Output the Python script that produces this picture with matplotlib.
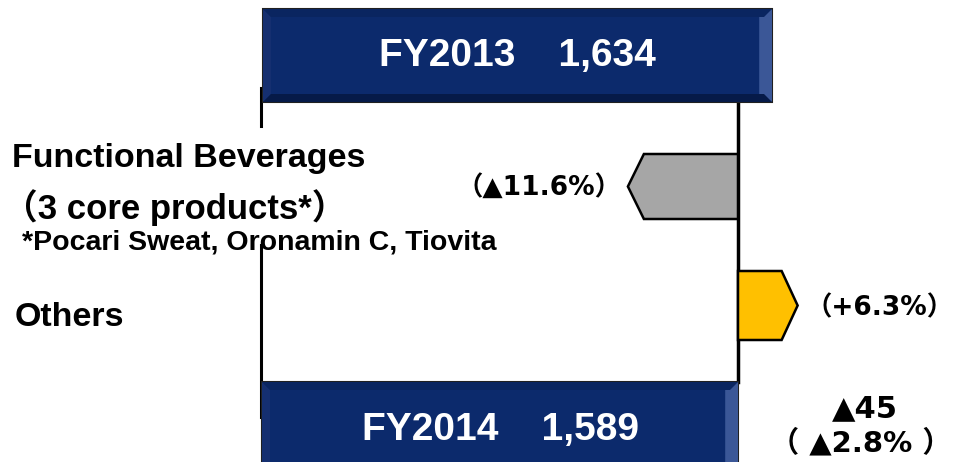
import matplotlib.pyplot as plt
from matplotlib.patches import Polygon, Rectangle

# values (JPY 100 million)
fy_labels = ["FY2013", "FY2014"]
fy_values = [1634, 1589]
segments = ["Functional Beverages", "Others"]
seg_note = ["（3 core products*）", "*Pocari Sweat, Oronamin C, Tiovita"]
seg_deltas = [-96, 52]
seg_pct = ["（▲11.6%）", "（+6.3%）"]
total_change = "▲45"
total_pct = "（ ▲2.8% ）"

FONT = ['Liberation Sans', 'Noto Sans CJK JP', 'DejaVu Sans']
WIDE = ['DejaVu Sans', 'Noto Sans CJK JP']
plt.rcParams['font.family'] = FONT
plt.rcParams['font.weight'] = 'bold'

W, H = 955, 462
fig = plt.figure(figsize=(W / 100, H / 100), dpi=100)
ax = fig.add_axes([0, 0, 1, 1])

base = fy_values[0]
scale = 1.147  # px per unit
ax.set_xlim(base - 738 / scale, base + (W - 738) / scale)
ax.set_ylim(H, 0)
ax.axis('off')

def px(x):
    return base + (x - 738) / scale

navy = '#0c2a6c'

def total_box(x0, x1, y0, y1, label):
    ax.add_patch(Rectangle((x0, y0), x1 - x0, y1 - y0, facecolor=navy,
                           edgecolor='#202020', lw=1.5, zorder=3))
    b = 8 / scale
    bv = 8
    # bevels
    ax.add_patch(Polygon([(x0, y0), (x0 + b, y0 + bv), (x0 + b, y1 - bv), (x0, y1)],
                         closed=True, facecolor='#152f70', lw=0, zorder=4))
    ax.add_patch(Polygon([(x1, y0), (x1 - 1.6 * b, y0 + bv), (x1 - 1.6 * b, y1 - bv), (x1, y1)],
                         closed=True, facecolor='#3b5797', lw=0, zorder=4))
    ax.add_patch(Polygon([(x0, y0), (x1, y0), (x1 - b, y0 + bv), (x0 + b, y0 + bv)],
                         closed=True, facecolor='#0a2560', lw=0, zorder=4))
    ax.add_patch(Polygon([(x0, y1), (x1, y1), (x1 - b, y1 - bv), (x0 + b, y1 - bv)],
                         closed=True, facecolor='#061a48', lw=0, zorder=4))
    ax.text((x0 + x1) / 2, (y0 + y1) / 2 + 1, label, color='white', fontsize=28,
            ha='center', va='center', zorder=5)

# connector lines
ax.plot([px(261), px(261)], [88, 126], color='black', lw=2.2, zorder=1)
ax.plot([px(261), px(261)], [245, 417], color='black', lw=2.2, zorder=1)
ax.plot([base, base], [102, 382], color='black', lw=2.5, zorder=2)

# total boxes
total_box(px(263), px(772), 9, 102, f"{fy_labels[0]}    {fy_values[0]:,}")
total_box(px(262), base, 382, 475, f"{fy_labels[1]}    {fy_values[1]:,}")

# segment arrows
seg_y = [(154, 219), (271, 340)]
seg_col = ['#a6a6a6', '#ffc000']
tip = 16 / scale
for d, (y0, y1), c, p in zip(seg_deltas, seg_y, seg_col, seg_pct):
    end = base + d
    sgn = 1 if d > 0 else -1
    pts = [(base, y0), (end - sgn * tip, y0), (end, (y0 + y1) / 2),
           (end - sgn * tip, y1), (base, y1)]
    ax.add_patch(Polygon(pts, closed=True, facecolor=c, edgecolor='black',
                         lw=1.8, zorder=3))
    if d < 0:
        ax.text(end - 6 / scale, (y0 + y1) / 2 + 1, p, fontsize=19,
                family=WIDE, ha='right', va='center')
    else:
        ax.text(end + 8 / scale, (y0 + y1) / 2 + 3, p, fontsize=19,
                family=WIDE, ha='left', va='center')

# category labels
ax.text(px(12), 159, segments[0], fontsize=24.5, ha='left', va='center')
ax.text(px(3), 208, seg_note[0], fontsize=25, ha='left', va='center')
ax.text(px(22), 242, seg_note[1], fontsize=20.5, ha='left', va='center')
ax.text(px(15), 318, segments[1], fontsize=24.5, ha='left', va='center')

# total change
ax.text(px(865), 409, total_change, fontsize=22, family=WIDE,
        ha='center', va='center')
ax.text(px(861), 443, total_pct, fontsize=21, family=WIDE,
        ha='center', va='center')

fig.savefig('out.png', dpi=100)
